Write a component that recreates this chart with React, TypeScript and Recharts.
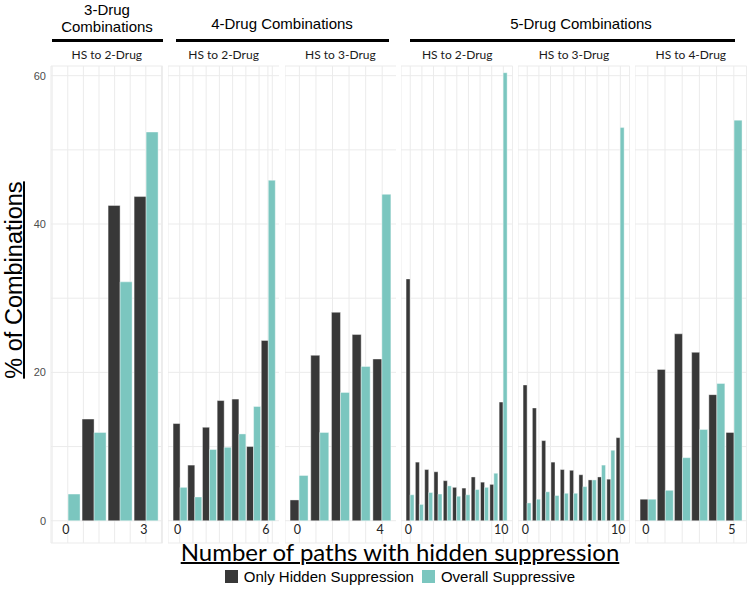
import React from 'react'
import { BarChart, Bar, XAxis, YAxis, CartesianGrid } from 'recharts'

// x = number of paths with hidden suppression, values = % of combinations
const seriesNames = ['Only Hidden Suppression', 'Overall Suppressive']
const groupTitles = ['3-Drug Combinations', '4-Drug Combinations', '5-Drug Combinations']
const stripLabels = ['HS to 2-Drug', 'HS to 2-Drug', 'HS to 3-Drug', 'HS to 2-Drug', 'HS to 3-Drug', 'HS to 4-Drug']

const hiddenOnly3to2 = [0, 13.7, 42.5, 43.7]
const overall3to2 = [3.6, 11.9, 32.2, 52.4]
const hiddenOnly4to2 = [13.1, 7.5, 12.6, 16.2, 16.4, 10.0, 24.3]
const overall4to2 = [4.5, 3.2, 9.6, 9.9, 11.7, 15.4, 45.9]
const hiddenOnly4to3 = [2.8, 22.3, 28.1, 25.1, 21.8]
const overall4to3 = [6.1, 11.9, 17.3, 20.8, 44.0]
const hiddenOnly5to2 = [32.6, 7.9, 6.9, 6.6, 5.4, 4.5, 4.4, 5.9, 5.2, 4.9, 16.0]
const overall5to2 = [3.5, 2.2, 3.8, 3.6, 4.7, 3.3, 3.5, 4.2, 4.5, 6.4, 60.4]
const hiddenOnly5to3 = [18.3, 15.2, 10.8, 7.9, 6.9, 6.8, 6.2, 5.5, 5.9, 5.6, 11.2]
const overall5to3 = [2.4, 2.9, 3.9, 3.4, 3.7, 3.7, 4.6, 5.5, 7.5, 9.5, 53.0]
const hiddenOnly5to4 = [2.9, 20.4, 25.2, 22.7, 17.0, 11.9]
const overall5to4 = [2.9, 4.1, 8.5, 12.3, 18.5, 54.0]

const yTicks = [0, 10, 20, 30, 40, 50, 60]
const yLabelled = [0, 20, 40, 60]

const DARK = '#383838'
const TEAL = '#7bc6bf'
const GRID = '#ebebeb'

const panels = [
  { hidden: hiddenOnly3to2, overall: overall3to2, step: 0.6 },
  { hidden: hiddenOnly4to2, overall: overall4to2, step: 0.9 },
  { hidden: hiddenOnly4to3, overall: overall4to3, step: 0.8 },
  { hidden: hiddenOnly5to2, overall: overall5to2, step: 1.25 },
  { hidden: hiddenOnly5to3, overall: overall5to3, step: 1.25 },
  { hidden: hiddenOnly5to4, overall: overall5to4, step: 1 },
]

const PANEL_LEFT = 51
const PANEL_STEP = 116.8
const PANEL_W = 111.6
const PLOT_TOP = 66
const PLOT_BOTTOM = 543
const H = 597

function Panel({ idx }: { idx: number }) {
  const p = panels[idx]
  const n = p.hidden.length - 1
  const data = p.hidden.map((v, i) => ({ x: i, hidden: v, overall: p.overall[i] }))
  const pad = 0.45 + 0.05 * (n + 0.9)
  const lo = -pad
  const hi = n + pad
  const grid: number[] = []
  for (let k = Math.ceil(lo / p.step); k * p.step <= hi; k++) grid.push(+(k * p.step).toFixed(3))
  if (!grid.includes(n)) grid.push(n)
  grid.sort((a, b) => a - b)
  const first = idx === 0
  const left = first ? 0 : PANEL_LEFT + idx * PANEL_STEP
  const width = first ? PANEL_LEFT + PANEL_W : PANEL_W

  const tick = (props: any) => {
    const { x, y, payload } = props
    const v = Number(payload.value)
    if (Math.abs(v) > 1e-6 && Math.abs(v - n) > 1e-6) return <g />
    return (
      <text x={x - 2} y={y - 9} textAnchor="middle" fontSize={12.5} fill="#222" fontFamily="Lato, 'Open Sans', sans-serif">
        {Math.round(v)}
      </text>
    )
  }

  return (
    <div style={{ position: 'absolute', left, top: 0 }}>
      <BarChart
        width={width}
        height={H}
        data={data}
        margin={{ top: PLOT_TOP, right: 0, bottom: H - PLOT_BOTTOM - 1, left: 0 }}
        barCategoryGap="5%"
        barGap={0}
      >
        <CartesianGrid stroke={GRID} strokeWidth={1} />
        <XAxis
          dataKey="x"
          type="number"
          domain={[lo, hi]}
          ticks={grid}
          interval={0}
          height={1}
          axisLine={false}
          tickLine={false}
          tickSize={0}
          tickMargin={0}
          tick={tick}
        />
        <YAxis
          hide={!first}
          width={first ? PANEL_LEFT : 0}
          domain={[-3, 61.3]}
          ticks={yTicks}
          interval={0}
          axisLine={false}
          tickLine={false}
          tickSize={0}
          tickMargin={5}
          tickFormatter={(v: number) => (yLabelled.includes(v) ? String(v) : '')}
          tick={{ fontSize: 11, fill: '#4d4d4d', fontFamily: "'Liberation Sans', Arial, sans-serif" }}
        />
        <Bar dataKey="hidden" name={seriesNames[0]} fill={DARK} stroke="#ffffff" strokeWidth={0.4} isAnimationActive={false} />
        <Bar dataKey="overall" name={seriesNames[1]} fill={TEAL} stroke="#ffffff" strokeWidth={0.4} isAnimationActive={false} />
      </BarChart>
    </div>
  )
}

const arial = "'Liberation Sans', Arial, sans-serif"
const calibri = "Lato, 'Open Sans', sans-serif"

export default function App() {
  const stripCenter = (i: number) => PANEL_LEFT + i * PANEL_STEP + PANEL_W / 2
  const headers = [
    { title: groupTitles[0].replace(' ', '\n'), center: 107, top: 1, from: 52, to: 163 },
    { title: groupTitles[1], center: 282, top: 15, from: 176, to: 389 },
    { title: groupTitles[2], center: 581, top: 15, from: 410, to: 735 },
  ]
  return (
    <div style={{ position: 'absolute', left: 0, top: 0, width: 748, height: 597, background: '#fff', overflow: 'hidden' }}>
      {panels.map((_, i) => (
        <Panel key={i} idx={i} />
      ))}
      {headers.map((h, i) => (
        <React.Fragment key={i}>
          <div
            style={{
              position: 'absolute',
              left: h.center - 120,
              width: 240,
              top: h.top,
              textAlign: 'center',
              whiteSpace: 'pre-line',
              fontFamily: arial,
              fontSize: 15,
              lineHeight: '17px',
              color: '#000',
            }}
          >
            {h.title}
          </div>
          <div style={{ position: 'absolute', left: h.from, width: h.to - h.from, top: 38.5, height: 3, background: '#000' }} />
        </React.Fragment>
      ))}
      {stripLabels.map((s, i) => (
        <div
          key={i}
          style={{
            position: 'absolute',
            left: stripCenter(i) - 55,
            width: 110,
            top: 47,
            textAlign: 'center',
            fontFamily: calibri,
            fontSize: 12,
            color: '#1a1a1a',
          }}
        >
          {s}
        </div>
      ))}
      <div
        style={{
          position: 'absolute',
          left: 14 - 150,
          top: 280 - 15,
          width: 300,
          height: 30,
          lineHeight: '30px',
          textAlign: 'center',
          transform: 'rotate(-90deg)',
          fontFamily: arial,
          fontSize: 23.5,
          textDecoration: 'underline',
          textDecorationThickness: '1.5px',
          color: '#000',
        }}
      >
        % of Combinations
      </div>
      <div
        style={{
          position: 'absolute',
          left: 100,
          width: 600,
          top: 537,
          textAlign: 'center',
          fontFamily: calibri,
          fontSize: 24,
          lineHeight: '30px',
          textDecoration: 'underline',
          textDecorationThickness: '1.5px',
          color: '#000',
        }}
      >
        Number of paths with hidden suppression
      </div>
      <div
        style={{
          position: 'absolute',
          left: 100,
          width: 600,
          top: 568,
          display: 'flex',
          justifyContent: 'center',
          alignItems: 'center',
          fontFamily: arial,
          fontSize: 15,
          color: '#000',
        }}
      >
        <span style={{ width: 13, height: 13, background: DARK, display: 'inline-block', marginRight: 6 }} />
        <span style={{ marginRight: 8 }}>{seriesNames[0]}</span>
        <span style={{ width: 13, height: 13, background: TEAL, display: 'inline-block', marginRight: 6 }} />
        <span>{seriesNames[1]}</span>
      </div>
    </div>
  )
}
